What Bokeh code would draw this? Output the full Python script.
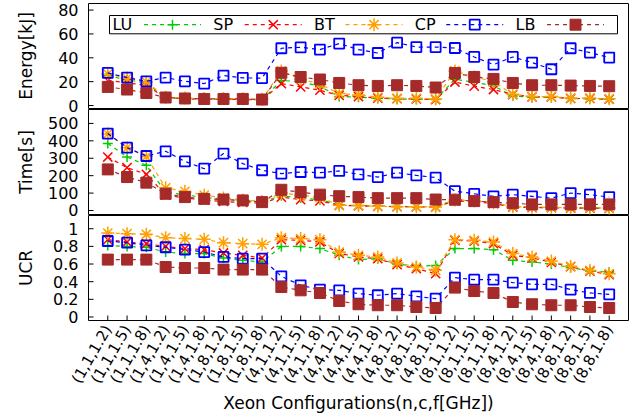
import math

from bokeh.core.properties import value
from bokeh.embed import file_html
from bokeh.models import Range1d
from bokeh.plotting import figure
from bokeh.resources import INLINE

# Xeon configurations (nodes, cores, frequency in GHz)
configs = [
    "(1,1,1.2)", "(1,1,1.5)", "(1,1,1.8)", "(1,4,1.2)", "(1,4,1.5)", "(1,4,1.8)",
    "(1,8,1.2)", "(1,8,1.5)", "(1,8,1.8)", "(4,1,1.2)", "(4,1,1.5)", "(4,1,1.8)",
    "(4,4,1.2)", "(4,4,1.5)", "(4,4,1.8)", "(4,8,1.2)", "(4,8,1.5)", "(4,8,1.8)",
    "(8,1,1.2)", "(8,1,1.5)", "(8,1,1.8)", "(8,4,1.2)", "(8,4,1.5)", "(8,4,1.8)",
    "(8,8,1.2)", "(8,8,1.5)", "(8,8,1.8)",
]

benchmarks = ["LU", "SP", "BT", "CP", "LB"]

# Energy [kJ]
energy_lu = [25, 21.5, 19, 6.5, 5.8, 5.3, 5.3, 5.1, 4.8, 21, 20, 16, 7.5, 7, 6, 5.5, 5.3, 5,
             22, 19.5, 16.5, 8, 7, 7, 5.8, 5.6, 5.2]
energy_sp = [21, 19, 17, 6.5, 5.8, 5.3, 5.3, 5, 4.6, 18.4, 15.6, 12.8, 8.5, 7.5, 6.2, 5.8, 5.5, 5,
             19.7, 16.2, 13.4, 9.2, 7.2, 7.2, 5.9, 5.9, 5.3]
energy_bt = [26.5, 23, 19.8, 7, 6.2, 5.8, 5.8, 5.6, 5.2, 29, 22, 18, 10, 8.9, 7, 6, 6, 5.5,
             29, 24, 20, 9.5, 7.5, 7.5, 6.2, 6.2, 5.6]
energy_cp = [27.3, 23.4, 20.3, 23.4, 20.3, 18.4, 25.1, 23.1, 23, 48, 48.8, 46.9, 51.9, 46.9, 44,
             52.7, 49, 49, 48.2, 40.7, 34.3, 40.7, 36, 30.4, 48, 44.4, 40.2]
energy_lb = [15.6, 13.4, 10.5, 6.7, 5.9, 5.5, 5.5, 5.5, 5, 27.4, 23.9, 21.8, 18.9, 17, 16.4, 17,
             16.4, 15.1, 27.3, 23.9, 22.3, 18.9, 17, 17, 16.7, 16.4, 16.2]

# Execution time [s]
time_lu = [385, 307, 260, 105, 90, 75, 65, 55, 50, 85, 72, 62, 32, 28, 25, 23, 22, 21,
           62, 55, 45, 22, 19, 18, 16, 15, 14]
time_sp = [307, 246, 208, 88, 72, 60, 52, 46, 42, 77, 62, 55, 30, 27, 24, 22, 21, 20,
           55, 50, 40, 20, 17, 16, 14, 13, 12]
time_bt = [440, 360, 310, 130, 110, 88, 72, 60, 52, 100, 88, 75, 30, 28, 24, 22, 21, 20,
           60, 55, 45, 22, 19, 18, 16, 15, 14]
time_cp = [442, 361, 313, 340, 282, 240, 327, 269, 231, 212, 221, 217, 227, 208, 192, 217, 202,
           189, 111, 96, 81, 91, 81, 71, 100, 91, 77]
time_lb = [236, 192, 160, 96, 77, 67, 63, 58, 48, 119, 106, 91, 82, 77, 71, 71, 71, 63,
           62, 54, 48, 42, 35, 35, 35, 35, 35]

# UCR
ucr_lu = [0.81, 0.80, 0.79, 0.736, 0.718, 0.718, 0.668, 0.642, 0.623, 0.80, 0.80, 0.775,
          0.70, 0.65, 0.66, 0.60, 0.574, 0.584, 0.775, 0.775, 0.763, 0.642, 0.623, 0.60,
          0.56, 0.52, 0.51]
ucr_sp = [0.876, 0.85, 0.83, 0.80, 0.775, 0.763, 0.725, 0.699, 0.668, 0.876, 0.869, 0.85,
          0.72, 0.68, 0.66, 0.593, 0.548, 0.491, 0.869, 0.86, 0.831, 0.70, 0.67, 0.62,
          0.57, 0.52, 0.48]
ucr_bt = [0.951, 0.944, 0.937, 0.899, 0.888, 0.88, 0.842, 0.831, 0.823, 0.899, 0.888, 0.876,
          0.736, 0.699, 0.68, 0.612, 0.566, 0.529, 0.876, 0.869, 0.85, 0.718, 0.68, 0.634,
          0.574, 0.529, 0.491]
ucr_cp = [0.861, 0.842, 0.812, 0.79, 0.763, 0.736, 0.68, 0.661, 0.661, 0.461, 0.359, 0.31,
          0.302, 0.265, 0.246, 0.265, 0.234, 0.208, 0.446, 0.423, 0.423, 0.39, 0.37, 0.37,
          0.31, 0.272, 0.257]
ucr_lb = [0.65, 0.65, 0.65, 0.566, 0.555, 0.555, 0.537, 0.537, 0.537, 0.34, 0.302, 0.272,
          0.181, 0.144, 0.133, 0.133, 0.113, 0.102, 0.333, 0.294, 0.272, 0.17, 0.144, 0.133,
          0.133, 0.113, 0.102]

energy_ticks = [0, 20, 40, 60, 80]
time_ticks = [0, 100, 200, 300, 400, 500]
ucr_ticks = [0, 0.2, 0.4, 0.6, 0.8, 1.0]
ucr_tick_text = ["0", "0.2", "0.4", "0.6", "0.8", "1"]

FONT = value("DejaVu Sans")
W, H = 638, 419
# plot box in canvas pixels: left/right edges, and the three stacked panel bands
BOX_L, BOX_R = 88, 628
BANDS = {"energy": (3, 108), "time": (109, 214), "ucr": (215, 320)}

STYLE = {
    "LU": dict(color="#00cc00", marker="cross", size=10, fill=None, lw=1.5),
    "SP": dict(color="#ff0000", marker="x", size=13, fill=None, lw=1.5),
    "BT": dict(color="#ffa000", marker="asterisk", size=13, fill=None, lw=1.5),
    "CP": dict(color="#0000ff", marker="square", size=10, fill=None, lw=1.8),
    "LB": dict(color="#a52a2a", marker="square", size=11, fill="#a52a2a", lw=1),
}

xs = list(range(len(configs)))
X_LO, X_HI = -1, len(configs)
ux = (X_HI - X_LO) / (BOX_R - BOX_L)          # x data units per pixel
x_range = Range1d(X_LO - BOX_L * ux, X_HI + (W - BOX_R) * ux)

# the whole canvas is the drawing area; the default y range counts pixels from the bottom
p = figure(width=W, height=H, x_range=x_range, y_range=Range1d(0, H),
           output_backend="svg", toolbar_location=None,
           x_axis_location=None, y_axis_location=None,
           min_border_left=0, min_border_right=0, min_border_top=0, min_border_bottom=0)
p.grid.visible = False
p.outline_line_color = None
p.background_fill_color = "white"
p.border_fill_color = "white"


def ypx(py):
    """Canvas pixel row -> default y coordinate."""
    return H - py


def xpx(px):
    """Canvas pixel column -> x coordinate."""
    return X_LO + (px - BOX_L) * ux


def add_panel(name, lo, hi, ticks, tick_text, title, series):
    top, bottom = BANDS[name]
    s = (hi - lo) / (bottom - top)
    rng = Range1d(lo - (H - bottom) * s, hi + top * s)
    p.extra_y_ranges[name] = rng

    # panel border
    p.quad(left=[X_LO], right=[X_HI], bottom=[lo], top=[hi], y_range_name=name,
           fill_color=None, line_color="black", line_width=1)
    # inward ticks on the left edge with their labels
    n = len(ticks)
    p.segment(x0=[X_LO] * n, y0=ticks, x1=[X_LO + 5 * ux] * n, y1=ticks,
              y_range_name=name, line_color="black", line_width=1)
    p.text(x=[xpx(BOX_L - 10)] * n, y=ticks, text=tick_text, y_range_name=name,
           text_font=FONT, text_font_size=value("16px"), text_align="right",
           text_baseline="middle", text_color="black")
    # panel title
    p.text(x=[xpx(25)], y=[(lo + hi) / 2], text=[title], y_range_name=name, angle=math.pi / 2,
           text_font=FONT, text_font_size=value("17px"), text_align="center",
           text_baseline="middle", text_color="black")

    for bname, ys in zip(benchmarks, series):
        st = STYLE[bname]
        p.line(xs, ys, y_range_name=name, line_color=st["color"], line_width=1.2,
               line_dash="4 4")
        p.scatter(xs, ys, y_range_name=name, marker=st["marker"], size=st["size"],
                  line_color=st["color"], line_width=st["lw"], fill_color=st["fill"])
    return rng


add_panel("energy", -2.5, 85.5, energy_ticks, [str(t) for t in energy_ticks],
          "Energy[kJ]", [energy_lu, energy_sp, energy_bt, energy_cp, energy_lb])
add_panel("time", -23, 580, time_ticks, [str(t) for t in time_ticks],
          "Time[s]", [time_lu, time_sp, time_bt, time_cp, time_lb])
add_panel("ucr", -0.04, 1.15, ucr_ticks, ucr_tick_text,
          "UCR", [ucr_lu, ucr_sp, ucr_bt, ucr_cp, ucr_lb])

# configuration axis: inward ticks on the bottom edge, slanted labels and the title
base = BANDS["ucr"][1]
p.segment(x0=xs, y0=[ypx(base)] * len(xs), x1=xs, y1=[ypx(base - 5)] * len(xs),
          line_color="black", line_width=1)
p.text(x=xs, y=[ypx(base + 6)] * len(xs), text=configs, angle=math.pi / 3,
       text_font=FONT, text_font_size=value("15px"), text_align="right",
       text_baseline="middle", text_color="black")
p.text(x=[(X_LO + X_HI) / 2], y=[ypx(402)], text=["Xeon Configurations(n,c,f[GHz])"],
       text_font=FONT, text_font_size=value("17px"), text_align="center",
       text_baseline="middle", text_color="black")

# key inside the energy panel: each label followed by its line sample
key_top, key_bottom, key_row = 15, 33.3, 24.2
p.quad(left=[xpx(109)], right=[xpx(617)], top=[ypx(key_top)], bottom=[ypx(key_bottom)],
       fill_color="white", line_color="black", line_width=1)
step = 100.75
for k, name in enumerate(benchmarks):
    st = STYLE[name]
    x0 = 112 + k * step
    p.text(x=[xpx(x0)], y=[ypx(key_row)], text=[name], text_font=FONT,
           text_font_size=value("16px"), text_baseline="middle", text_align="left",
           text_color="black")
    p.line([xpx(x0 + 31.5), xpx(x0 + 88.5)], [ypx(key_row)] * 2,
           line_color=st["color"], line_width=1.2, line_dash="4 4")
    p.scatter([xpx(x0 + 60)], [ypx(key_row)], marker=st["marker"], size=st["size"],
              line_color=st["color"], line_width=st["lw"], fill_color=st["fill"])

open("out.html", "w").write(file_html(p, INLINE))
